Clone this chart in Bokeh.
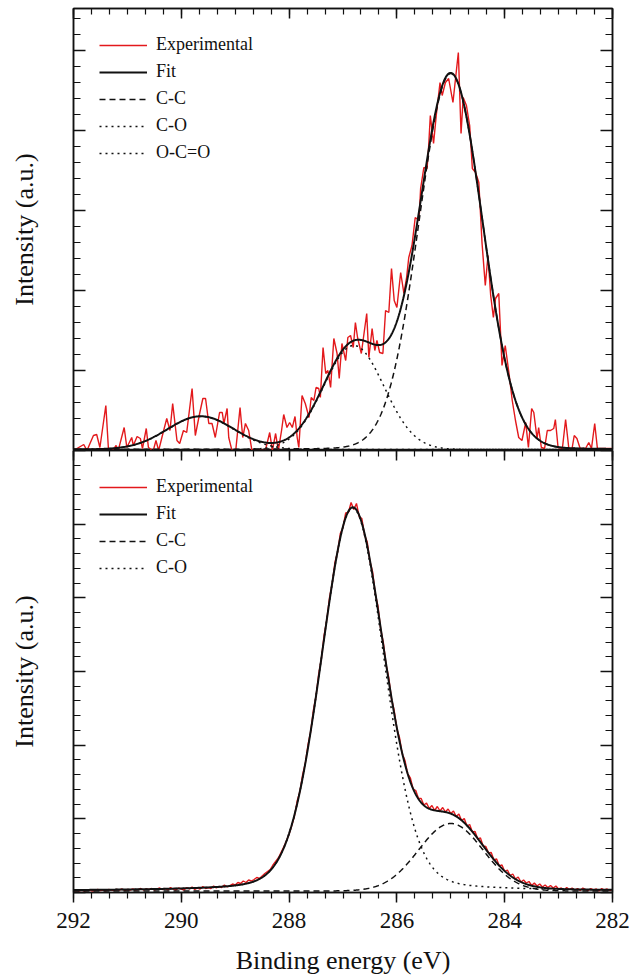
import numpy as np
from bokeh.plotting import figure
from bokeh.models import (Range1d, LinearAxis, FixedTicker, Legend, LegendItem,
                          CustomJSTickFormatter)
from bokeh.layouts import column
from bokeh.embed import file_html
from bokeh.resources import INLINE

# ---------------- data ----------------
# Upper spectrum: measured C 1s signal (binding energy in eV, intensity in a.u.)
top_energy = [
    292.00, 291.81, 291.75, 291.63, 291.57, 291.51, 291.40, 291.35, 291.27, 291.21,
    291.17, 291.06, 291.01, 290.92, 290.89, 290.82, 290.76, 290.72, 290.65, 290.61,
    290.52, 290.47, 290.42, 290.36, 290.27, 290.21, 290.16, 290.08, 290.03, 289.96,
    289.90, 289.80, 289.74, 289.66, 289.60, 289.55, 289.49, 289.43, 289.37, 289.29,
    289.24, 289.21, 289.15, 289.12, 289.06, 288.99, 288.91, 288.86, 288.81, 288.75,
    288.69, 288.59, 288.53, 288.44, 288.36, 288.31, 288.25, 288.20, 288.14, 288.10,
    288.04, 287.99, 287.94, 287.89, 287.85, 287.82, 287.76, 287.70, 287.63, 287.59,
    287.54, 287.50, 287.45, 287.42, 287.37, 287.32, 287.28, 287.23, 287.17, 287.11,
    287.07, 287.02, 286.95, 286.91, 286.86, 286.81, 286.77, 286.73, 286.66, 286.61,
    286.56, 286.52, 286.46, 286.41, 286.37, 286.32, 286.26, 286.21, 286.15, 286.10,
    286.05, 286.00, 285.93, 285.87, 285.82, 285.78, 285.72, 285.66, 285.59, 285.56,
    285.50, 285.44, 285.41, 285.38, 285.32, 285.27, 285.20, 285.16, 285.10, 285.04,
    284.96, 284.91, 284.86, 284.81, 284.77, 284.71, 284.65, 284.60, 284.54, 284.48,
    284.42, 284.36, 284.31, 284.26, 284.21, 284.17, 284.11, 284.05, 283.99, 283.92,
    283.86, 283.80, 283.74, 283.68, 283.61, 283.56, 283.50, 283.46, 283.40, 283.37,
    283.32, 283.26, 283.21, 283.15, 283.09, 283.06, 283.01, 282.93, 282.87, 282.81,
    282.75, 282.71, 282.66, 282.60, 282.50, 282.44, 282.39, 282.33, 282.28, 282.19,
    282.07, 282.00,
]
top_intensity = [
    0, 6, 0, 15, 16, 3, 45, 0, 0, 5,
    0, 23, 3, 13, 5, 14, 12, 2, 22, 3,
    0, 10, 0, 13, 32, 20, 47, 10, 7, 20,
    18, 62, 15, 37, 52, 52, 27, 27, 13, 38,
    38, 27, 42, 13, 0, 0, 43, 13, 27, 20,
    0, 0, 0, 0, 18, 0, 17, 0, 20, 36,
    23, 28, 23, 34, 13, 3, 55, 47, 33, 53,
    50, 63, 62, 53, 103, 77, 80, 63, 112, 97,
    72, 107, 90, 113, 115, 103, 128, 113, 97, 117,
    137, 93, 122, 100, 110, 98, 97, 140, 138, 182,
    150, 143, 178, 157, 173, 193, 205, 233, 230, 262,
    283, 282, 305, 335, 307, 335, 368, 355, 368, 372,
    348, 373, 398, 317, 353, 345, 325, 282, 278, 268,
    207, 165, 195, 155, 133, 152, 157, 85, 105, 77,
    50, 30, 13, 10, 28, 3, 42, 38, 12, 23,
    3, 2, 20, 20, 22, 31, 3, 2, 31, 2,
    2, 15, 12, 2, 2, 8, 2, 27, 2, 2,
    2, 2,
]

# Upper spectrum: fitted components
top_names = ["C-C", "C-O", "O-C=O"]
top_center = [285.00, 286.80, 289.64]
top_height = [376, 104, 33]
top_fwhm = [1.39, 1.32, 1.46]
top_lorentz = [0.03, 0.0, 0.0]
top_background = 1.0

# Lower spectrum: measured C 1s signal
bottom_energy = [
    292.00, 291.95, 291.90, 291.85, 291.80, 291.75, 291.70, 291.65, 291.60, 291.55,
    291.50, 291.45, 291.40, 291.35, 291.30, 291.25, 291.20, 291.15, 291.10, 291.05,
    291.00, 290.95, 290.90, 290.85, 290.80, 290.75, 290.70, 290.65, 290.60, 290.55,
    290.50, 290.45, 290.40, 290.35, 290.30, 290.25, 290.20, 290.15, 290.10, 290.05,
    290.00, 289.95, 289.90, 289.85, 289.80, 289.75, 289.70, 289.65, 289.60, 289.55,
    289.50, 289.45, 289.40, 289.35, 289.30, 289.25, 289.20, 289.15, 289.10, 289.05,
    289.00, 288.95, 288.90, 288.85, 288.80, 288.75, 288.70, 288.65, 288.60, 288.55,
    288.50, 288.45, 288.40, 288.35, 288.30, 288.25, 288.20, 288.15, 288.10, 288.05,
    288.00, 287.95, 287.90, 287.85, 287.80, 287.75, 287.70, 287.65, 287.60, 287.55,
    287.50, 287.45, 287.40, 287.35, 287.30, 287.25, 287.20, 287.15, 287.10, 287.05,
    287.00, 286.95, 286.90, 286.85, 286.80, 286.75, 286.70, 286.65, 286.60, 286.55,
    286.50, 286.45, 286.40, 286.35, 286.30, 286.25, 286.20, 286.15, 286.10, 286.05,
    286.00, 285.95, 285.90, 285.85, 285.80, 285.75, 285.70, 285.65, 285.60, 285.55,
    285.50, 285.45, 285.40, 285.35, 285.30, 285.25, 285.20, 285.15, 285.10, 285.05,
    285.00, 284.95, 284.90, 284.85, 284.80, 284.75, 284.70, 284.65, 284.60, 284.55,
    284.50, 284.45, 284.40, 284.35, 284.30, 284.25, 284.20, 284.15, 284.10, 284.05,
    284.00, 283.95, 283.90, 283.85, 283.80, 283.75, 283.70, 283.65, 283.60, 283.55,
    283.50, 283.45, 283.40, 283.35, 283.30, 283.25, 283.20, 283.15, 283.10, 283.05,
    283.00, 282.95, 282.90, 282.85, 282.80, 282.75, 282.70, 282.65, 282.60, 282.55,
    282.50, 282.45, 282.40, 282.35, 282.30, 282.25, 282.20, 282.15, 282.10, 282.05,
    282.00,
]
bottom_intensity = [
    1.5, 2.0, 1.5, 2.5, 1.5, 2.0, 2.5, 1.5, 2.0, 3.0,
    2.0, 2.5, 1.5, 3.0, 2.5, 2.0, 3.0, 2.5, 3.5, 2.0,
    3.0, 2.5, 3.5, 2.5, 3.0, 4.0, 2.5, 3.5, 3.0, 4.0,
    2.5, 3.5, 4.5, 3.0, 4.0, 2.5, 5.0, 3.5, 2.5, 4.5,
    3.5, 2.5, 5.0, 3.5, 5.5, 3.0, 4.5, 3.5, 6.0, 4.0,
    5.0, 4.0, 6.5, 4.5, 6.0, 5.0, 7.5, 5.5, 7.0, 8.5,
    7.5, 10.0, 9.0, 11.5, 10.0, 12.5, 11.5, 13.0, 15.0, 14.0,
    16.5, 19.0, 21.0, 23.0, 27.5, 31.0, 34.5, 40.0, 45.5, 51.5,
    58.5, 67.0, 76.5, 91.5, 101.0, 117.5, 129.0, 147.5, 161.0, 182.0,
    196.5, 219.0, 234.5, 257.5, 273.0, 295.0, 309.0, 330.0, 340.5, 359.0,
    365.0, 379.5, 380.0, 390.0, 383.0, 389.0, 376.0, 374.0, 357.5, 350.5,
    331.0, 320.5, 298.5, 286.0, 263.0, 249.5, 227.5, 214.5, 193.5, 182.0,
    163.5, 154.5, 138.5, 132.0, 118.5, 114.5, 103.5, 102.0, 94.0, 94.0,
    87.5, 89.5, 84.0, 87.0, 82.0, 86.0, 81.5, 85.0, 80.5, 83.5,
    79.0, 81.5, 76.0, 78.5, 72.0, 74.0, 66.5, 68.0, 60.5, 61.0,
    53.5, 54.5, 46.5, 46.0, 39.5, 40.0, 32.5, 33.5, 26.5, 27.5,
    21.0, 22.5, 17.0, 18.5, 13.5, 15.5, 10.5, 12.5, 9.5, 11.0,
    7.0, 9.5, 6.5, 8.5, 5.5, 7.5, 5.0, 7.0, 4.5, 6.5,
    3.5, 4.5, 2.5, 5.0, 3.0, 4.5, 2.5, 4.0, 2.0, 4.5,
    3.0, 2.0, 4.0, 2.5, 3.5, 1.5, 4.0, 2.5, 3.5, 2.0,
    3.0,
]

# Lower spectrum: fitted components
bottom_names = ["C-C", "C-O"]
bottom_center = [285.00, 286.82]
bottom_height = [67.5, 383]
bottom_fwhm = [1.41, 1.38]
bottom_lorentz = [0.0, 0.15]
bottom_background = 1.5

energy_ticks = [292, 290, 288, 286, 284, 282]

# ---------------- helpers ----------------
SERIF = "Liberation Serif"
RED = "#e3191c"
INK = "#111111"
Y_TOP = 442.0

def pseudo_voigt(e, center, height, fwhm, frac):
    half = fwhm / 2.0
    u = ((e - center) / half) ** 2
    return height * (frac / (1.0 + u) + (1.0 - frac) * np.exp(-np.log(2.0) * u))

grid = np.linspace(292.0, 282.0, 1201)

x_ticker = FixedTicker(ticks=energy_ticks,
                       minor_ticks=[282.0 + i / 3.0 for i in range(31)])

def axis_style(ax, inward=True, tick_len=12, minor_len=7):
    ax.axis_line_width = 1.5
    ax.axis_line_color = INK
    ax.major_tick_line_width = 1.5
    ax.minor_tick_line_width = 1.2
    ax.major_tick_line_color = INK
    ax.minor_tick_line_color = INK
    if inward:
        ax.major_tick_in, ax.major_tick_out = tick_len, 0
        ax.minor_tick_in, ax.minor_tick_out = minor_len, 0
    else:
        ax.major_tick_in, ax.major_tick_out = 0, tick_len
        ax.minor_tick_in, ax.minor_tick_out = 0, minor_len

def hide_labels(ax):
    # tick marks only, no numbers on this side
    ax.formatter = CustomJSTickFormatter(code="return ''")
    ax.major_label_standoff = 0

def make_panel(height, border_top, border_bottom, y_major, y_minor, with_energy_axis):
    p = figure(width=630, height=height,
               x_range=Range1d(292, 282), y_range=Range1d(0, Y_TOP),
               output_backend="svg", toolbar_location=None,
               x_axis_location=None, y_axis_location=None,
               min_border_left=73, min_border_right=18,
               min_border_top=border_top, min_border_bottom=border_bottom)
    p.grid.visible = False
    p.outline_line_color = INK
    p.outline_line_width = 1.5
    p.background_fill_color = "white"
    p.border_fill_color = "white"

    y_ticker = FixedTicker(ticks=y_major, minor_ticks=y_minor)

    left = LinearAxis(ticker=y_ticker, axis_label="Intensity (a.u.)")
    axis_style(left, inward=True, tick_len=12, minor_len=7)
    hide_labels(left)
    left.axis_label_text_font = SERIF
    left.axis_label_text_font_size = "26px"
    left.axis_label_text_font_style = "normal"
    left.axis_label_text_color = INK
    left.axis_label_standoff = 35
    p.add_layout(left, "left")

    right = LinearAxis(ticker=y_ticker)
    axis_style(right, inward=True, tick_len=12, minor_len=7)
    hide_labels(right)
    p.add_layout(right, "right")

    top = LinearAxis(ticker=x_ticker)
    axis_style(top, inward=True, tick_len=10, minor_len=6)
    hide_labels(top)
    p.add_layout(top, "above")

    if with_energy_axis:
        bottom = LinearAxis(ticker=x_ticker, axis_label="Binding energy (eV)")
        axis_style(bottom, inward=False, tick_len=10, minor_len=6)
        bottom.major_label_text_font = SERIF
        bottom.major_label_text_font_size = "23px"
        bottom.major_label_text_color = INK
        bottom.major_label_standoff = 10
        bottom.axis_label_text_font = SERIF
        bottom.axis_label_text_font_size = "26px"
        bottom.axis_label_text_font_style = "normal"
        bottom.axis_label_text_color = INK
        bottom.axis_label_standoff = 15
        p.add_layout(bottom, "below")
    return p

def add_legend(p, items):
    legend = Legend(items=items, location="top_left",
                    label_text_font=SERIF, label_text_font_size="18px",
                    label_text_color=INK,
                    glyph_width=48, glyph_height=20, label_height=20,
                    label_standoff=9, spacing=6, padding=0, margin=26,
                    border_line_color=None, background_fill_alpha=0)
    p.add_layout(legend)

DASHES = {"C-C": "6 4", "C-O": "2 4", "O-C=O": "2 4"}

def draw_spectrum(p, energy, intensity, names, centers, heights, fwhms, fracs, background):
    r_exp = p.line(energy, intensity, line_color=RED, line_width=1.4)
    peaks = [pseudo_voigt(grid, c, h, w, f)
             for c, h, w, f in zip(centers, heights, fwhms, fracs)]
    fit = np.sum(peaks, axis=0) + background
    comp_renderers = []
    for name, peak in zip(names, peaks):
        comp_renderers.append(
            p.line(grid, peak + background, line_color=INK, line_width=1.5,
                   line_dash=DASHES[name]))
    r_fit = p.line(grid, fit, line_color=INK, line_width=2.0)
    items = [LegendItem(label="Experimental", renderers=[r_exp]),
             LegendItem(label="Fit", renderers=[r_fit])]
    items += [LegendItem(label=n, renderers=[r]) for n, r in zip(names, comp_renderers)]
    add_legend(p, items)

# ---------------- panels ----------------
top_major = [0, 80, 160, 240, 320, 400]
top_minor = [16.0 * i for i in range(28)]
upper = make_panel(450, 8, 0, top_major, top_minor, False)
draw_spectrum(upper, top_energy, top_intensity, top_names,
              top_center, top_height, top_fwhm, top_lorentz, top_background)

bot_major = [Y_TOP * i / 6.0 for i in range(7)]
bot_minor = [Y_TOP * i / 30.0 for i in range(31)]
lower = make_panel(530, 0, 88, bot_major, bot_minor, True)
draw_spectrum(lower, bottom_energy, bottom_intensity, bottom_names,
              bottom_center, bottom_height, bottom_fwhm, bottom_lorentz,
              bottom_background)

layout = column(upper, lower, spacing=0)
open("out.html", "w").write(file_html(layout, INLINE))
